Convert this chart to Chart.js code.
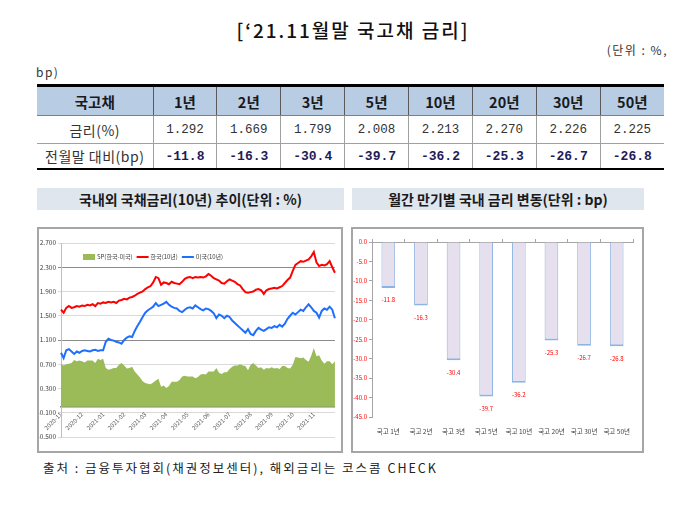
<!DOCTYPE html>
<html><head><meta charset="utf-8">
<script src="https://cdn.jsdelivr.net/npm/chart.js@4.4.0/dist/chart.umd.min.js"></script>
<style>
html,body{margin:0;padding:0;background:#fff;}
body{width:679px;height:522px;position:relative;overflow:hidden;font-family:"Noto Sans CJK KR","Noto Sans",sans-serif;color:#222;}
.title{position:absolute;left:0;width:706px;top:16px;text-align:center;font-size:19px;font-weight:500;letter-spacing:2px;color:#111;line-height:28px;}
.unit1{position:absolute;right:11px;top:41px;font-size:12px;letter-spacing:1.5px;color:#333;line-height:18px;}
.unit2{position:absolute;left:36px;top:63px;font-size:12px;letter-spacing:1.5px;color:#333;line-height:18px;}
table{position:absolute;left:37px;top:84px;width:627px;border-collapse:collapse;table-layout:fixed;border-top:3px solid #000;border-bottom:2px solid #000;}
th{background:#b8cce4;height:28px;padding:0;font-size:14.5px;font-weight:bold;color:#1a1a1a;border-left:1px solid #5a5a5a;border-bottom:1px solid #7f7f7f;}
td{padding:0;text-align:center;border-left:1px solid #a0a0a0;border-bottom:1px solid #a0a0a0;}
tr > :first-child{border-left:none;}
.r1 td{height:27px;}
.r2 td{height:24px;}
.name{font-size:14px;color:#333;letter-spacing:0.5px;}
.v1{font-family:"Liberation Mono","DejaVu Sans Mono",monospace;font-size:12.5px;color:#333;}
.v2{font-family:"Liberation Mono","DejaVu Sans Mono",monospace;font-size:13px;font-weight:bold;color:#1d1d5a;}
.ph{position:absolute;top:188px;height:22px;background:#dfe6ee;text-align:center;font-size:14px;font-weight:bold;color:#1a1a1a;line-height:22px;}
.frame{position:absolute;top:227px;height:226px;box-sizing:border-box;border:2px solid #a6a6a6;}
canvas{position:absolute;}
.foot{position:absolute;left:43px;top:458px;font-size:12.5px;letter-spacing:2px;color:#222;line-height:20px;}
</style>
</head>
<body>
<div class="title">[‘21.11월말 국고채 금리]</div>
<div class="unit1">(단위 : %,</div>
<div class="unit2">bp)</div>
<table id="tbl"></table>

<div class="ph" style="left:37px;width:307px;">국내외 국채금리(10년) 추이(단위 : %)</div>
<div class="ph" style="left:352px;width:292px;">월간 만기별 국내 금리 변동(단위 : bp)</div>
<div class="frame" style="left:37px;width:306px;"></div>
<div class="frame" style="left:351px;width:293px;"></div>
<canvas id="lineChart" width="302" height="222" style="left:39px;top:229px;"></canvas>
<canvas id="barChart" width="289" height="222" style="left:353px;top:229px;"></canvas>
<div class="foot">출처 : 금융투자협회(채권정보센터), 해외금리는 코스콤 CHECK</div>

<script>
// ---- table data ----
const TABLE_HEAD = '국고채';
const ROW_NAMES = ['금리(%)', '전월말 대비(bp)'];
const TENORS = ['1년','2년','3년','5년','10년','20년','30년','50년'];
const YIELDS = ['1.292','1.669','1.799','2.008','2.213','2.270','2.226','2.225'];
const CHANGES = ['-11.8','-16.3','-30.4','-39.7','-36.2','-25.3','-26.7','-26.8'];

// ---- left chart data ----
const MONTHS = ['2020-11','2020-12','2021-01','2021-02','2021-03','2021-04','2021-05','2021-06','2021-07','2021-08','2021-09','2021-10','2021-11'];
const SERIES_NAMES = ['SP(한국-미국)','한국(10년)','미국(10년)'];
const KOREA = [1.60,1.55,1.63,1.66,1.63,1.64,1.66,1.65,
1.67,1.66,1.68,1.67,1.69,1.66,1.71,1.70,
1.72,1.71,1.73,1.72,1.73,1.71,1.75,1.76,
1.78,1.77,1.80,1.81,1.83,1.86,1.88,1.90,
1.94,1.97,1.99,2.05,2.14,2.12,2.01,2.05,
2.04,2.02,2.06,2.04,2.03,2.02,2.06,2.11,
2.13,2.14,2.12,2.14,2.13,2.14,2.13,2.15,
2.19,2.16,2.12,2.10,2.08,2.04,2.03,2.07,
2.10,2.08,2.06,2.02,2.00,1.94,1.89,1.88,
1.89,1.90,1.93,1.94,1.92,1.86,1.92,1.94,
1.95,1.96,1.95,1.97,1.99,2.04,2.09,2.13,
2.24,2.34,2.37,2.40,2.39,2.41,2.43,2.48,
2.55,2.38,2.32,2.34,2.33,2.35,2.40,2.30,
2.21];
const US = [0.89,0.80,0.93,0.95,0.91,0.87,0.91,0.89,
0.92,0.93,0.92,0.91,0.93,0.94,0.92,0.93,
0.93,1.07,1.12,1.10,1.09,1.07,1.06,1.04,
1.10,1.14,1.16,1.15,1.25,1.33,1.40,1.48,
1.55,1.59,1.62,1.65,1.71,1.66,1.68,1.70,
1.73,1.68,1.65,1.63,1.62,1.58,1.56,1.60,
1.63,1.64,1.62,1.67,1.64,1.61,1.59,1.62,
1.61,1.58,1.54,1.46,1.52,1.50,1.46,1.50,
1.48,1.42,1.38,1.34,1.30,1.26,1.22,1.28,
1.20,1.18,1.25,1.30,1.27,1.25,1.28,1.31,
1.30,1.33,1.31,1.35,1.32,1.37,1.45,1.50,
1.55,1.52,1.56,1.60,1.58,1.64,1.69,1.64,
1.58,1.55,1.47,1.58,1.62,1.60,1.65,1.60,
1.46];
const SPREAD = [0.71,0.68,0.70,0.71,0.72,0.77,0.75,0.76,
0.75,0.73,0.76,0.76,0.76,0.72,0.79,0.77,
0.79,0.64,0.61,0.62,0.64,0.64,0.69,0.72,
0.68,0.63,0.64,0.66,0.58,0.53,0.48,0.42,
0.39,0.38,0.37,0.40,0.43,0.46,0.33,0.35,
0.31,0.34,0.41,0.41,0.41,0.44,0.50,0.51,
0.50,0.50,0.50,0.47,0.49,0.53,0.54,0.53,
0.58,0.58,0.58,0.64,0.56,0.54,0.57,0.57,
0.62,0.66,0.68,0.68,0.70,0.68,0.67,0.60,
0.69,0.72,0.68,0.64,0.65,0.61,0.64,0.63,
0.65,0.63,0.64,0.62,0.67,0.67,0.64,0.63,
0.69,0.82,0.81,0.80,0.81,0.77,0.74,0.84,
0.97,0.83,0.85,0.76,0.71,0.75,0.75,0.70,
0.75];
const POINTS_PER_MONTH = 8;
const Y_TICKS_LEFT = {min: -0.5, max: 2.7, step: 0.4};

// ---- right chart data ----
const BAR_CATEGORIES = ['국고 1년','국고 2년','국고 3년','국고 5년','국고 10년','국고 20년','국고 30년','국고 50년'];
const BAR_VALUES = [-11.8,-16.3,-30.4,-39.7,-36.2,-25.3,-26.7,-26.8];
const Y_TICKS_RIGHT = {min: -45, max: 0, step: 5};

// ---- build table ----
(function(){
  let h = '<colgroup><col style="width:116px">' + TENORS.map(()=>'<col>').join('') + '</colgroup>';
  h += '<tr><th>' + TABLE_HEAD + '</th>' + TENORS.map(t=>'<th>'+t+'</th>').join('') + '</tr>';
  h += '<tr class="r1"><td class="name">' + ROW_NAMES[0] + '</td>' + YIELDS.map(v=>'<td class="v1">'+v+'</td>').join('') + '</tr>';
  h += '<tr class="r2"><td class="name">' + ROW_NAMES[1] + '</td>' + CHANGES.map(v=>'<td class="v2">'+v+'</td>').join('') + '</tr>';
  document.getElementById('tbl').innerHTML = h;
})();

const FONT = '"Noto Sans CJK KR", "Liberation Sans", sans-serif';

// ---- left chart ----
const pointLabels = KOREA.map((_, i) => (i % POINTS_PER_MONTH === 0 && MONTHS[i / POINTS_PER_MONTH]) ? MONTHS[i / POINTS_PER_MONTH] : '');

const insideLegend = {
  id: 'insideLegend',
  afterDraw(chart) {
    const {ctx, chartArea} = chart;
    let x = chartArea.left + 22;
    const y = chartArea.top + 14;
    ctx.save();
    ctx.font = '6px ' + FONT;
    ctx.textBaseline = 'middle';
    chart.data.datasets.forEach(ds => {
      if (ds.fill) {
        ctx.fillStyle = ds.backgroundColor;
        ctx.fillRect(x, y - 3, 12, 6);
      } else {
        ctx.strokeStyle = ds.borderColor;
        ctx.lineWidth = 2;
        ctx.beginPath(); ctx.moveTo(x, y); ctx.lineTo(x + 12, y); ctx.stroke();
      }
      x += 14;
      ctx.fillStyle = '#404040';
      ctx.fillText(ds.label, x, y);
      x += ctx.measureText(ds.label).width + 4;
    });
    ctx.restore();
  }
};

new Chart(document.getElementById('lineChart'), {
  type: 'line',
  data: {
    labels: pointLabels,
    datasets: [
      {label: SERIES_NAMES[0], data: SPREAD, fill: 'origin', backgroundColor: '#9bbb59', borderColor: '#9bbb59', borderWidth: 0, pointRadius: 0, tension: 0, order: 3},
      {label: SERIES_NAMES[1], data: KOREA, fill: false, borderColor: '#ff0000', borderWidth: 2, pointRadius: 0, tension: 0, order: 1},
      {label: SERIES_NAMES[2], data: US, fill: false, borderColor: '#1f6fff', borderWidth: 2, pointRadius: 0, tension: 0, order: 2}
    ]
  },
  options: {
    responsive: false, animation: false,
    layout: {padding: {left: 0, right: 6, top: 14, bottom: 14}},
    plugins: {legend: {display: false}, tooltip: {enabled: false}},
    scales: {
      x: {
        type: 'category', position: {y: 0},
        grid: {display: false, drawTicks: true, tickLength: 3},
        border: {display: true, color: '#7f7f7f', width: 1.5},
        ticks: {autoSkip: false, minRotation: 45, maxRotation: 45, padding: 1, color: '#595959', font: {size: 6, family: FONT}}
      },
      y: {
        min: Y_TICKS_LEFT.min, max: Y_TICKS_LEFT.max,
        afterFit: s => { s.width = 22; },
        ticks: {stepSize: Y_TICKS_LEFT.step, padding: 2, color: '#404040', font: {size: 6.5, family: FONT}, callback: v => Number(v).toFixed(3)},
        grid: {tickLength: 3, lineWidth: 1, color: c => {
          const v = c.tick ? c.tick.value : 0;
          return (Math.abs(v - 2.3) < 1e-6 || Math.abs(v - 1.1) < 1e-6) ? '#8c8c8c' : '#d9d9d9';
        }},
        border: {color: '#bfbfbf'}
      }
    }
  },
  plugins: [insideLegend]
});

// ---- right chart ----
const barLabels = {
  id: 'barLabels',
  afterDatasetsDraw(chart) {
    const {ctx} = chart;
    const meta = chart.getDatasetMeta(0);
    ctx.save();
    ctx.font = '6px ' + FONT;
    ctx.fillStyle = '#ff0000';
    ctx.textAlign = 'center';
    ctx.textBaseline = 'middle';
    meta.data.forEach((bar, i) => {
      ctx.fillText(Number(chart.data.datasets[0].data[i]).toFixed(1), bar.x, bar.y + 12);
    });
    ctx.restore();
  }
};

new Chart(document.getElementById('barChart'), {
  type: 'bar',
  data: {
    labels: BAR_CATEGORIES,
    datasets: [{
      data: BAR_VALUES,
      backgroundColor: '#e6e0ee',
      borderColor: '#8db3e2',
      borderWidth: {left: 1, right: 1, top: 0, bottom: 2},
      borderSkipped: false,
      categoryPercentage: 1, barPercentage: 0.42
    }]
  },
  options: {
    responsive: false, animation: false,
    layout: {padding: {left: 0, right: 9, top: 0, bottom: 0}},
    plugins: {legend: {display: false}, tooltip: {enabled: false}},
    scales: {
      x: {
        position: 'bottom',
        grid: {display: false, drawTicks: true, tickLength: 8},
        border: {display: false},
        ticks: {padding: 3, color: '#404040', font: {size: 6.5, family: FONT}, maxRotation: 0, autoSkip: false},
        afterFit: s => { s.height = 34; }
      },
      x2: {
        type: 'category', labels: BAR_CATEGORIES, position: 'top', offset: true,
        grid: {drawOnChartArea: false, drawTicks: true, tickLength: 3, offset: true, color: '#a6a6a6'},
        border: {color: '#a6a6a6'},
        ticks: {display: false},
        afterFit: s => { s.height = 13; }
      },
      y: {
        min: Y_TICKS_RIGHT.min, max: Y_TICKS_RIGHT.max,
        afterFit: s => { s.width = 19; },
        ticks: {stepSize: Y_TICKS_RIGHT.step, padding: 2, color: '#ff0000', font: {size: 6, family: FONT}, callback: v => Number(v).toFixed(1)},
        grid: {drawOnChartArea: false, tickLength: 3, color: '#a6a6a6'},
        border: {color: '#a6a6a6'}
      }
    }
  },
  plugins: [barLabels]
});
</script>
</body></html>
